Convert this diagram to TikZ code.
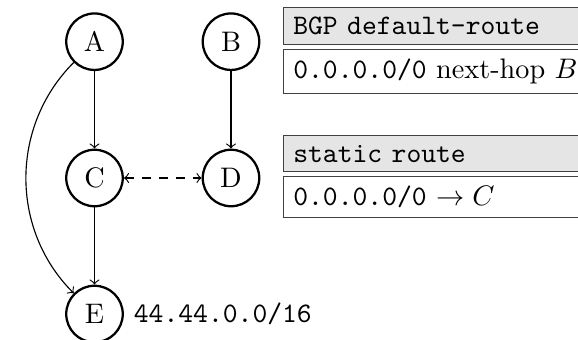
\documentclass[tikz,border=0pt]{standalone}
\usetikzlibrary{positioning}
\begin{document}
\begin{tikzpicture}[x=0.354pt,y=-0.354pt,
  router/.style={circle,draw,thick,minimum size=20pt,inner sep=0pt},
  link/.style={->},
  boxhead/.style={draw=black!75,fill=gray!20,anchor=north west,text width=130pt,align=left,inner sep=3.333pt},
  boxbody/.style={draw=black!75,fill=white,anchor=north west,text width=130pt,align=left,inner sep=3.333pt}
]
\useasboundingbox (0,0) rectangle (578,340);

% routers
\node[router] (A) at (94.5,41.7) {A};
\node[router] (B) at (231,41.7) {B};
\node[router] (C) at (94.5,178) {C};
\node[router] (D) at (231,178) {D};
\node[router] (E) at (94.5,314) {E};
\node[anchor=west] (Elab) at (E.east) {\texttt{44.44.0.0/16}};

% links
\draw[link] (A) -- (C);
\draw[link] (B) -- (D);
\draw[link] (C) -- (E);
\draw[<->,dashed] (C) -- (D);
\draw[link] (A) to[bend right=45] (E);

% routing tables
\node[boxhead] (bgph) at (283.3,7.3) {\texttt{BGP default-route}};
\node[boxbody,below=1.3pt of bgph.south west,anchor=north west] (bgpb) {\texttt{0.0.0.0/0} next-hop $B$};
\node[boxhead] (sth) at (283.3,135) {\texttt{static route}};
\node[boxbody,below=1.3pt of sth.south west,anchor=north west] (stb) {\texttt{0.0.0.0/0} $\to C$};
\end{tikzpicture}
\end{document}
